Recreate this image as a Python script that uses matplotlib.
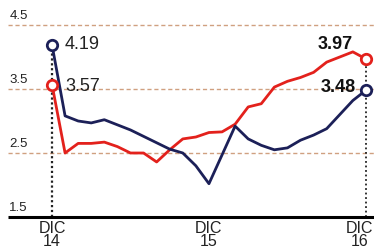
import matplotlib
matplotlib.use("Agg")
import matplotlib.pyplot as plt
from matplotlib import font_manager

# Data (monthly, Dec 2014 .. Dec 2016)
months = list(range(25))
red_values = [3.57, 2.50, 2.65, 2.65, 2.67, 2.60, 2.50, 2.50, 2.36, 2.55, 2.72, 2.75, 2.82,
              2.83, 2.95, 3.22, 3.27, 3.53, 3.62, 3.68, 3.76, 3.92, 4.00, 4.08, 3.97]
blue_values = [4.19, 3.08, 3.00, 2.97, 3.02, 2.94, 2.86, 2.76, 2.66, 2.56, 2.50, 2.30, 2.02,
               2.47, 2.92, 2.72, 2.62, 2.55, 2.58, 2.70, 2.78, 2.88, 3.10, 3.32, 3.48]
y_ticks = [1.5, 2.5, 3.5, 4.5]
y_tick_labels = ["1.5", "2.5", "3.5", "4.5"]
x_tick_pos = [0, 12, 24]
x_tick_labels = ["DIC\n14", "DIC\n15", "DIC\n16"]

names = {f.name for f in font_manager.fontManager.ttflist}
fam = "Liberation Sans Narrow" if "Liberation Sans Narrow" in names else "Liberation Sans"
plt.rcParams['font.family'] = [fam, 'DejaVu Sans']

RED = "#e3211c"
NAVY = "#1c2058"
GRID = "#d0a080"

fig = plt.figure(figsize=(3.74, 2.52), dpi=100)
ax = fig.add_axes([0, 0, 1, 1])
ax.set_xlim(-52 / 13.08, (374 - 52) / 13.08)
ax.set_ylim(1.5 - 35 / 64, 1.5 + 217 / 64)
ax.axis("off")

x0 = -44 / 13.08
x1 = 24.62
# grid lines
for yv in y_ticks[1:]:
    ax.plot([x0, x1], [yv, yv], color=GRID, lw=1.0, ls=(0, (3, 2)), zorder=1)
# baseline
ax.plot([x0, x1], [1.5, 1.5], color="black", lw=2.2, zorder=3, solid_capstyle="butt")

# tick labels
for yv, lab in zip(y_ticks, y_tick_labels):
    ax.text(x0 + 0.1, yv + 0.05, lab, fontsize=9.5, color="#222222", ha="left", va="bottom")
for xv, lab in zip(x_tick_pos, x_tick_labels):
    ha = "center"
    xx = xv
    if xv == x_tick_pos[-1]:
        ha = "right"
        xx = x1 - 0.05
    ax.text(xx, 1.5 - 0.07, lab, fontsize=11.5, color="#222222", ha=ha, va="top",
            linespacing=0.8, multialignment="center")

# vertical dotted lines
ax.plot([0, 0], [1.5, blue_values[0]], color="#222222", lw=1.6, ls=(0, (1, 1.2)), zorder=2)
ax.plot([24, 24], [1.5, red_values[-1]], color="#222222", lw=1.3, ls=(0, (1, 1.5)), zorder=2)

# series
ax.plot(months, red_values, color=RED, lw=2.0, zorder=4, solid_joinstyle="round")
ax.plot(months, blue_values, color=NAVY, lw=2.0, zorder=5, solid_joinstyle="round")
for vals, col in ((red_values, RED), (blue_values, NAVY)):
    ax.plot([months[0], months[-1]], [vals[0], vals[-1]], ls="none", marker="o", ms=7.5,
            mfc="white", mec=col, mew=2.0, zorder=6)

# value labels
ax.text(1.0, blue_values[0], f"{blue_values[0]:.2f}", fontsize=13, color="#222222",
        ha="left", va="center")
ax.text(1.0, red_values[0] - 0.03, f"{red_values[0]:.2f}", fontsize=13, color="#222222",
        ha="left", va="center")
ax.text(23.0, red_values[-1] + 0.22, f"{red_values[-1]:.2f}", fontsize=13, color="#111111",
        ha="right", va="center", fontweight="bold")
ax.text(23.2, blue_values[-1] + 0.05, f"{blue_values[-1]:.2f}", fontsize=13, color="#111111",
        ha="right", va="center", fontweight="bold")

fig.savefig("out.png", dpi=100, facecolor="white")
